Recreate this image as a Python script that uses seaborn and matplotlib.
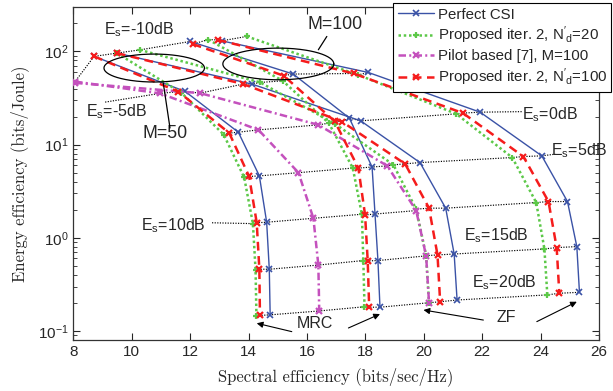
import numpy as np
import pandas as pd
import matplotlib
matplotlib.use("Agg")
import matplotlib.pyplot as plt
from matplotlib.lines import Line2D
import seaborn as sns

# ---------------- data ----------------
ES = [-10, -5, 0, 5, 10, 15, 20]

# Perfect CSI
pcsi_mrc50_se = [8.71, 11.83, 13.65, 14.37, 14.62, 14.71, 14.74]
pcsi_mrc50_ee = [88.5, 37.2, 13.6, 4.62, 1.47, 0.46, 0.149]
pcsi_zf50_se = [9.49, 14.11, 17.84, 19.87, 20.75, 21.04, 21.14]
pcsi_zf50_ee = [96, 44.7, 18.0, 6.42, 2.08, 0.67, 0.215]
pcsi_mrc100_se = [12.0, 15.53, 17.45, 18.23, 18.33, 18.43, 18.5]
pcsi_mrc100_ee = [128, 57.2, 19.3, 5.75, 1.8, 0.57, 0.18]
pcsi_zf100_se = [13.08, 18.1, 21.93, 24.04, 24.92, 25.24, 25.33]
pcsi_zf100_ee = [130, 59.5, 22.3, 7.58, 2.45, 0.805, 0.26]

# Proposed iter. 2, N'd = 20
nd20_mrc50_se = [9.49, 11.7, 13.15, 13.85, 14.15, 14.24, 14.27]
nd20_mrc50_ee = [96, 36, 12.8, 4.45, 1.42, 0.45, 0.145]
nd20_zf50_se = [10.28, 14.4, 16.95, 18.96, 19.74, 20.08, 20.18]
nd20_zf50_ee = [104, 46.5, 16.8, 6.07, 2.03, 0.644, 0.201]
nd20_mrc100_se = [12.62, 15.17, 16.75, 17.57, 17.88, 17.93, 17.97]
nd20_mrc100_ee = [134, 48.4, 17.0, 5.6, 1.79, 0.57, 0.182]
nd20_zf100_se = [13.94, 17.76, 21.11, 23.03, 23.85, 24.13, 24.23]
nd20_zf100_ee = [145, 56, 21.4, 7.27, 2.39, 0.76, 0.244]

# Pilot based [7], M = 100
pilot_mrc100_se = [8.06, 10.97, 14.34, 15.71, 16.22, 16.39, 16.42]
pilot_mrc100_ee = [47.5, 35.5, 14.4, 5.0, 1.62, 0.51, 0.164]
pilot_zf100_se = [8.06, 12.34, 16.39, 18.75, 19.74, 20.08, 20.18]
pilot_zf100_ee = [46, 35.7, 16.3, 5.92, 1.96, 0.64, 0.201]

# Proposed iter. 2, N'd = 100
nd100_mrc50_se = [8.71, 11.6, 13.34, 14.02, 14.28, 14.37, 14.39]
nd100_mrc50_ee = [88.5, 37, 13.3, 4.55, 1.45, 0.46, 0.147]
nd100_zf50_se = [9.49, 13.82, 17.19, 19.36, 20.18, 20.47, 20.56]
nd100_zf50_ee = [96, 44.7, 17.7, 6.22, 2.08, 0.655, 0.206]
nd100_mrc100_se = [12.09, 15.2, 16.95, 17.76, 17.99, 18.08, 18.13]
nd100_mrc100_ee = [120, 55, 17.8, 5.6, 1.76, 0.565, 0.18]
nd100_zf100_se = [12.95, 17.6, 21.34, 23.41, 24.27, 24.55, 24.64]
nd100_zf100_ee = [133, 58, 21.8, 7.45, 2.45, 0.785, 0.254]

series_labels = ["Perfect CSI",
                 r"Proposed iter. 2, $\mathregular{N'_d}$=20",
                 "Pilot based [7], M=100",
                 r"Proposed iter. 2, $\mathregular{N'_d}$=100"]

# ---------------- style ----------------
sns.set_style("ticks")
plt.rcParams['font.family'] = ['Liberation Sans', 'DejaVu Sans']
plt.rcParams['mathtext.fontset'] = 'dejavusans'

BLUE = '#3a52a6'
GREEN = '#5cc848'
MAG = '#c451bd'
RED = '#f51c1c'

line_styles = {
    'pcsi': dict(color=BLUE, linestyle='-', linewidth=1.0),
    'nd20': dict(color=GREEN, linestyle=(0, (1, 1.1)), linewidth=1.8),
    'pilot': dict(color=MAG, linestyle=(0, (3, 1.3, 0.8, 1.3)), linewidth=1.8),
    'nd100': dict(color=RED, linestyle=(0, (3.5, 2.2)), linewidth=1.8),
}
marker_styles = {
    'pcsi': dict(marker='x', markersize=4, markeredgewidth=1.2),
    'nd20': dict(marker='+', markersize=5, markeredgewidth=1.6),
    'pilot': dict(marker='x', markersize=4, markeredgewidth=1.6),
    'nd100': dict(marker='x', markersize=4, markeredgewidth=1.6),
}

curves = [
    ('pcsi', pcsi_mrc50_se, pcsi_mrc50_ee), ('pcsi', pcsi_zf50_se, pcsi_zf50_ee),
    ('pcsi', pcsi_mrc100_se, pcsi_mrc100_ee), ('pcsi', pcsi_zf100_se, pcsi_zf100_ee),
    ('nd20', nd20_mrc50_se, nd20_mrc50_ee), ('nd20', nd20_zf50_se, nd20_zf50_ee),
    ('nd20', nd20_mrc100_se, nd20_mrc100_ee), ('nd20', nd20_zf100_se, nd20_zf100_ee),
    ('pilot', pilot_mrc100_se, pilot_mrc100_ee), ('pilot', pilot_zf100_se, pilot_zf100_ee),
    ('nd100', nd100_mrc50_se, nd100_mrc50_ee), ('nd100', nd100_zf50_se, nd100_zf50_ee),
    ('nd100', nd100_mrc100_se, nd100_mrc100_ee), ('nd100', nd100_zf100_se, nd100_zf100_ee),
]

fig = plt.figure(figsize=(6.13, 3.91), dpi=100)
ax = fig.add_axes([0.1196, 0.1304, 0.8576, 0.8517])
ax.set_yscale('log')

# ---------------- iso-Es dotted lines ----------------
extra = {-5: [(9.09, 28.6)], 0: [(23.36, 22.6)], 5: [(24.5, 7.9)], 10: [(12.75, 1.45)]}
for i, es in enumerate(ES):
    pts = [(c[1][i], c[2][i]) for c in curves] + extra.get(es, [])
    pts.sort()
    d = pd.DataFrame(pts, columns=['se', 'ee'])
    sns.lineplot(data=d, x='se', y='ee', sort=False, estimator=None, ax=ax,
                 color='black', linestyle=(0, (1, 1.2)), linewidth=0.85, zorder=1, legend=False)

# ---------------- curves ----------------
for key, se, ee in curves:
    d = pd.DataFrame({'se': se, 'ee': ee})
    sns.lineplot(data=d, x='se', y='ee', sort=False, estimator=None, ax=ax,
                 zorder=3, legend=False, **line_styles[key])
    ln = ax.lines[-1]
    ms = marker_styles[key]
    ln.set_marker(ms['marker'])
    ln.set_markersize(ms['markersize'])
    ln.set_markeredgewidth(ms['markeredgewidth'])
    ln.set_markeredgecolor(line_styles[key]['color'])
    ln.set_markerfacecolor(line_styles[key]['color'])

ax.set_xlim(8, 26)
ax.set_ylim(0.08, 300)
ax.set_xticks(np.arange(8, 27, 2))
ax.tick_params(which='both', direction='in', top=True, right=True, labelsize=11)
ax.tick_params(which='major', length=5, width=0.8)
ax.tick_params(which='minor', length=3, width=0.6)
for s in ax.spines.values():
    s.set_linewidth(0.9)
    s.set_color('#333333')

ax.set_xlabel('Spectral efficiency (bits/sec/Hz)', family='cmr10', fontsize=12, labelpad=6)
ax.set_ylabel('Energy efficiency (bits/Joule)', family='cmr10', fontsize=12, labelpad=6)

# ---------------- annotations ----------------
fs = 11.5
def lab(x, y, s, size=fs):
    ax.text(x, y, s, fontsize=size, ha='center', va='center', clip_on=False, zorder=4)

lab(10.25, 171, r"E$_{\mathregular{s}}$=-10dB")
lab(9.47, 22.4, r"E$_{\mathregular{s}}$=-5dB")
lab(24.33, 20.9, r"E$_{\mathregular{s}}$=0dB")
lab(25.3, 8.7, r"E$_{\mathregular{s}}$=5dB")
lab(11.42, 1.34, r"E$_{\mathregular{s}}$=10dB")
lab(22.5, 1.05, r"E$_{\mathregular{s}}$=15dB")
lab(22.75, 0.328, r"E$_{\mathregular{s}}$=20dB")
lab(11.14, 13.1, "M=50", 12.8)
lab(16.96, 194, "M=100", 12.8)
lab(16.28, 0.119, "MRC")
lab(22.82, 0.138, "ZF")

# ellipses (drawn in linear-x / log-y so they are ellipses on screen)
t = np.linspace(0, 2 * np.pi, 200)
for cx, a, cyl, b in [(10.77, 1.72, 1.822, 0.150), (15.02, 1.90, 1.866, 0.170)]:
    ax.plot(cx + a * np.cos(t), 10 ** (cyl + b * np.sin(t)), color='black', lw=0.9, zorder=4)
ax.plot([11.08, 11.31], [45.8, 15.1], color='black', lw=0.9, zorder=4)
ax.plot([16.39, 16.68], [104.3, 144.9], color='black', lw=0.9, zorder=4)

arr = dict(arrowstyle='-|>', color='black', lw=0.8, mutation_scale=9, shrinkA=0, shrinkB=0)
for (tx, ty), (hx, hy) in [((15.48, 0.0984), (14.28, 0.121)),
                           ((17.42, 0.1077), (18.5, 0.152)),
                           ((22.04, 0.131), (19.99, 0.168)),
                           ((23.87, 0.126), (25.24, 0.206))]:
    ax.annotate('', xy=(hx, hy), xytext=(tx, ty), arrowprops=arr, annotation_clip=False, zorder=4)

# ---------------- legend ----------------
handles = [Line2D([], [], **line_styles[k], **marker_styles[k]) for k in ['pcsi', 'nd20', 'pilot', 'nd100']]
leg = fig.legend(handles, series_labels, loc='upper left', bbox_to_anchor=(0.6416, 0.992),
                 bbox_transform=fig.transFigure, fontsize=10.8, frameon=True, fancybox=False,
                 framealpha=1, edgecolor='black', borderpad=0.3, labelspacing=0.2,
                 handlelength=2.4, handletextpad=0.25, borderaxespad=0)
leg.get_frame().set_linewidth(0.8)
leg.set_zorder(10)

fig.savefig('out.png', dpi=100)
